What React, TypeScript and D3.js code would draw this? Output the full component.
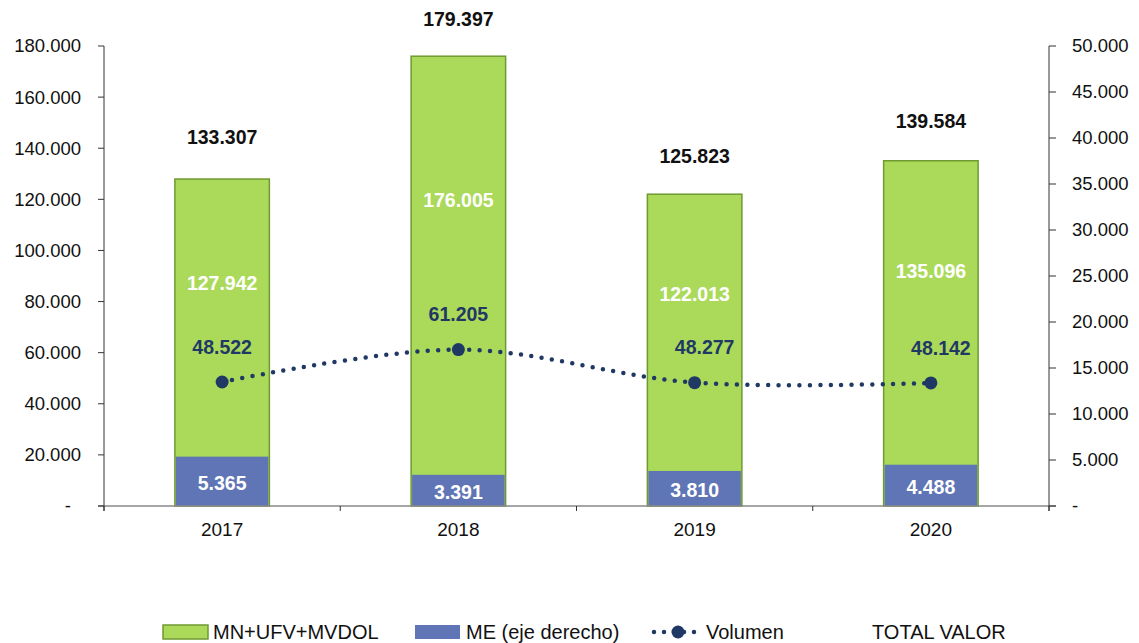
import React from "react";
import * as d3 from "d3";

const years = ["2017", "2018", "2019", "2020"];
const mnValues = [127942, 176005, 122013, 135096];
const meValues = [5365, 3391, 3810, 4488];
const volumenValues = [48522, 61205, 48277, 48142];
const totalValues = [133307, 179397, 125823, 139584];
const leftTicks = [0, 20000, 40000, 60000, 80000, 100000, 120000, 140000, 160000, 180000];
const rightTicks = [0, 5000, 10000, 15000, 20000, 25000, 30000, 35000, 40000, 45000, 50000];

const W = 1139, H = 643;
const M = { left: 104, right: 1049, top: 46, bottom: 506 };
const FONT = "'Liberation Sans', Arial, sans-serif";
const GREEN = "#abda5b";
const GREEN_STROKE = "#6f9a31";
const BLUE = "#5f75b5";
const NAVY = "#1f3864";

const fmt = (v: number) => (v === 0 ? "-" : d3.format(",")(v).replace(/,/g, "."));

export default function App() {
  const x = d3.scaleBand().domain(years).range([M.left, M.right]).paddingInner(0).paddingOuter(0);
  const yL = d3.scaleLinear().domain([0, 180000]).range([M.bottom, M.top]);
  const yR = d3.scaleLinear().domain([0, 50000]).range([M.bottom, M.top]);
  const bw = x.bandwidth() * 0.4;
  const cx = (y: string) => (x(y) as number) + x.bandwidth() / 2;

  const line = d3
    .line<number>()
    .x((_, i) => cx(years[i]))
    .y((d) => yL(d))
    .curve(d3.curveCatmullRom.alpha(0.5));

  const boundaries = years.map((y) => x(y) as number).concat([M.right]);

  return (
    <svg width={W} height={H} style={{ position: "absolute", left: 0, top: 0, fontFamily: FONT }}>
      <rect width={W} height={H} fill="#fff" />
      {/* bars */}
      {years.map((y, i) => {
        const x0 = cx(y) - bw / 2;
        const gTop = yL(mnValues[i]);
        const bTop = yR(meValues[i]);
        return (
          <g key={y}>
            <rect x={x0} y={gTop} width={bw} height={M.bottom - gTop} fill={GREEN} stroke={GREEN_STROKE} strokeWidth={1.5} />
            <rect x={x0 + 1} y={bTop} width={bw - 2} height={M.bottom - bTop} fill={BLUE} />
          </g>
        );
      })}
      {/* axes */}
      <line x1={M.left - 6} x2={M.right + 7} y1={M.bottom} y2={M.bottom} stroke="#888" strokeWidth={1.5} />
      <line x1={M.left} x2={M.left} y1={M.top} y2={M.bottom + 5} stroke="#333" strokeWidth={1} />
      <line x1={M.right} x2={M.right} y1={M.top} y2={M.bottom + 5} stroke="#333" strokeWidth={1} />
      {boundaries.map((b, i) => (
        <line key={i} x1={b} x2={b} y1={M.bottom} y2={M.bottom + 5} stroke="#333" strokeWidth={1} />
      ))}
      {leftTicks.map((t) => (
        <g key={t}>
          <line x1={M.left - 6} x2={M.left} y1={yL(t)} y2={yL(t)} stroke="#333" />
          <text x={t === 0 ? 71 : 81} y={yL(t)} dy="0.35em" textAnchor="end" fontSize={18.5} fill="#111">
            {fmt(t)}
          </text>
        </g>
      ))}
      {rightTicks.map((t) => (
        <g key={t}>
          <line x1={M.right} x2={M.right + 7} y1={yR(t)} y2={yR(t)} stroke="#333" />
          <text x={1072} y={yR(t)} dy="0.35em" textAnchor="start" fontSize={18.5} fill="#111">
            {fmt(t)}
          </text>
        </g>
      ))}
      {years.map((y) => (
        <text key={y} x={cx(y)} y={M.bottom + 30} textAnchor="middle" fontSize={19} fill="#111">
          {y}
        </text>
      ))}
      {/* volumen line */}
      <path d={line(volumenValues) || ""} fill="none" stroke={NAVY} strokeWidth={4.5} strokeLinecap="round" strokeDasharray="0 10.4" />
      {volumenValues.map((v, i) => (
        <circle key={i} cx={cx(years[i])} cy={yL(v)} r={6.5} fill={NAVY} />
      ))}
      {/* labels */}
      {years.map((y, i) => (
        <g key={y} fontWeight="bold" fontSize={19.5} textAnchor="middle">
          <text x={cx(y)} y={yL(mnValues[i] * 0.68)} dy="0.35em" fill="#fff">
            {fmt(mnValues[i])}
          </text>
          <text x={cx(y)} y={(yR(meValues[i]) + M.bottom) / 2 + 2} dy="0.35em" fill="#fff">
            {fmt(meValues[i])}
          </text>
          <text x={cx(y) + (i >= 2 ? 10 : 0)} y={yL(volumenValues[i]) - 35} dy="0.35em" fill={NAVY}>
            {fmt(volumenValues[i])}
          </text>
          <text x={cx(y)} y={yL(totalValues[i]) - 28} dy="0.35em" fill="#111">
            {fmt(totalValues[i])}
          </text>
        </g>
      ))}
      {/* legend */}
      <g fontSize={20} fill="#111">
        <rect x={163} y={625} width={45} height={14} fill={GREEN} stroke={GREEN_STROKE} strokeWidth={1.5} />
        <text x={213} y={632} dy="0.35em">MN+UFV+MVDOL</text>
        <rect x={415} y={625} width={45} height={14} fill={BLUE} />
        <text x={466} y={632} dy="0.35em">ME (eje derecho)</text>
        <line x1={654} x2={700} y1={632} y2={632} stroke={NAVY} strokeWidth={4.5} strokeLinecap="round" strokeDasharray="0 10" />
        <circle cx={678} cy={632} r={6.5} fill={NAVY} />
        <text x={706} y={632} dy="0.35em">Volumen</text>
        <text x={872} y={632} dy="0.35em">TOTAL VALOR</text>
      </g>
    </svg>
  );
}
